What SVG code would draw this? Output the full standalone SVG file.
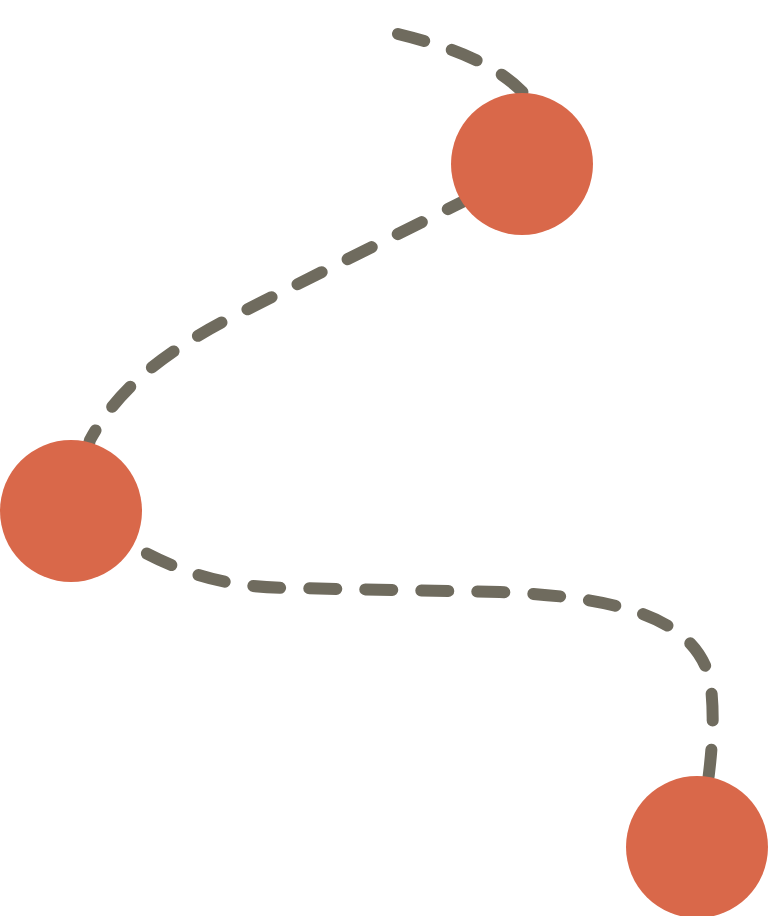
<svg xmlns="http://www.w3.org/2000/svg" width="768" height="916" viewBox="0 0 768 916">
<style>
.edge{fill:none;stroke:#6f6b5e;stroke-width:12;stroke-linecap:round;stroke-dasharray:27 29}
.node{fill:#d9684a}
</style>
<rect width="768" height="916" fill="#ffffff"/>
<g id="connectors">
<path class="edge" d="M398,34 C455,48 500,65 530,100 L522,164"/>
<path class="edge" d="M522,172 L240,313 C170,348 120,385 90,440 L71,511"/>
<path class="edge" style="stroke-dashoffset:25" d="M71,511 C150,555 190,587 290,588 L500,592 C620,597 695,618 710,680 C716,720 712,770 697,847"/>
</g>
<g id="node-top"><circle class="node" cx="522" cy="164" r="71"/></g>
<g id="node-left"><circle class="node" cx="71" cy="511" r="71"/></g>
<g id="node-bottom"><circle class="node" cx="697" cy="847" r="71"/></g>
</svg>
